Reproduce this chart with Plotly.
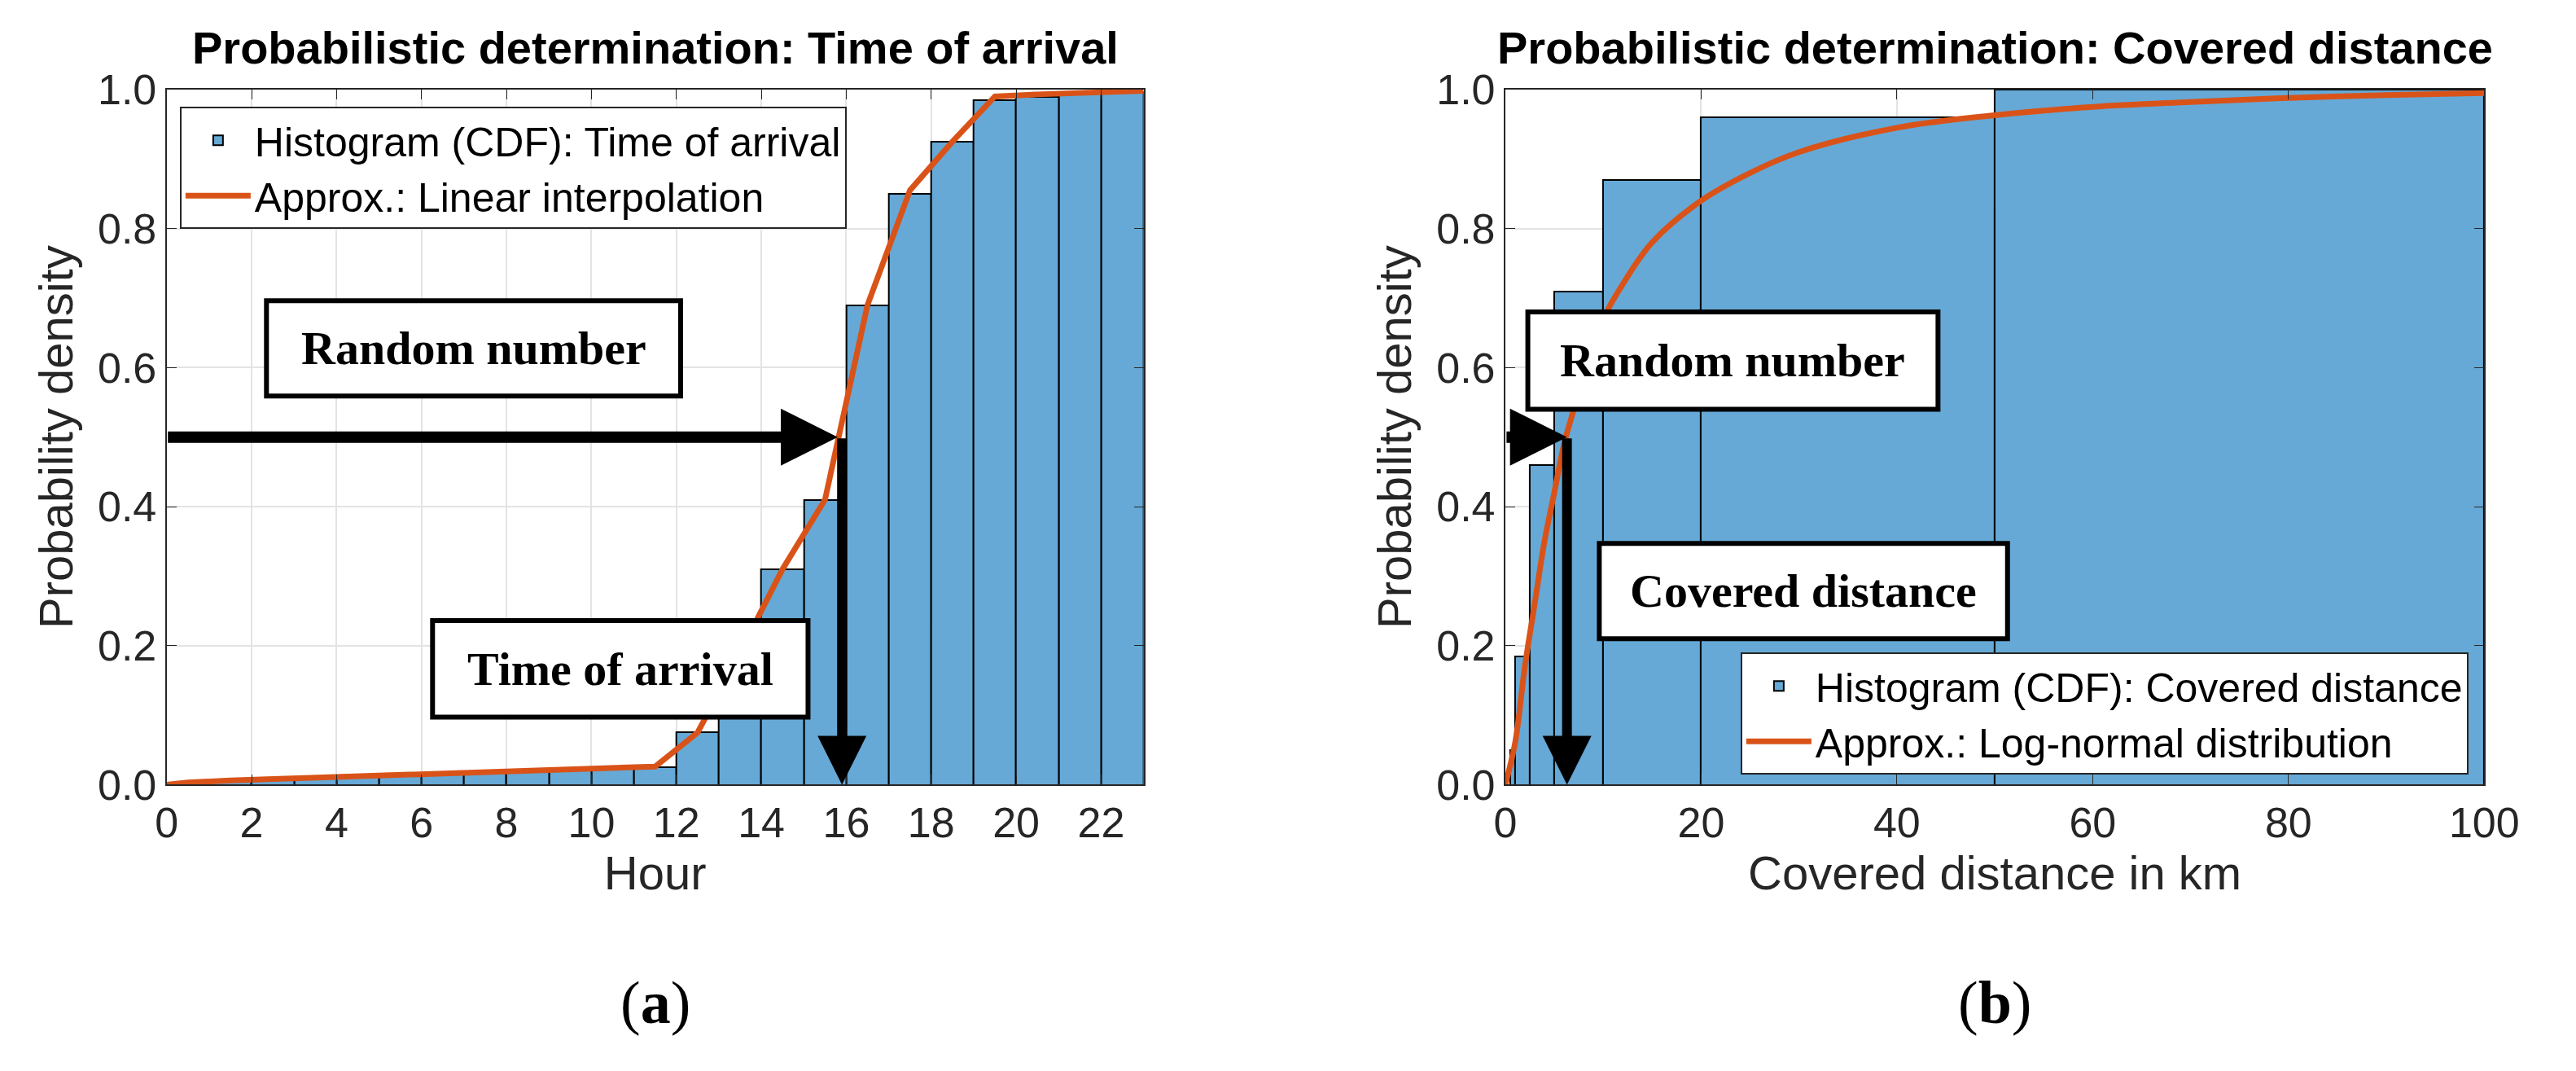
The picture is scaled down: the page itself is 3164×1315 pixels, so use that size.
import plotly.graph_objects as go

# Left: time of arrival histogram CDF (1-hour bins)
hour_edges = list(range(0, 24))
hour_cdf = [0.003, 0.006, 0.008, 0.010, 0.012, 0.014, 0.016, 0.018, 0.020, 0.022, 0.024, 0.025,
            0.075, 0.19, 0.31, 0.41, 0.69, 0.85, 0.925, 0.985, 0.99, 0.995, 0.997]
line_hour_x = [0, 0.5, 1.5, 2.5, 3.5, 4.5, 5.5, 6.5, 7.5, 8.5, 9.5, 10.5, 11.5, 12.5, 13.5, 14.5, 15.5,
               16.5, 17.5, 18.5, 19.5, 20.5, 21.5, 22.5, 23]
line_hour_y = [0.0, 0.003, 0.006, 0.008, 0.010, 0.012, 0.014, 0.016, 0.018, 0.020, 0.022, 0.024, 0.026,
               0.075, 0.19, 0.31, 0.41, 0.69, 0.855, 0.925, 0.99, 0.993, 0.995, 0.997, 0.998]

# Right: covered distance histogram CDF (variable bins)
dist_edges = [0.5, 1, 2.5, 5, 10, 20, 50, 100]
dist_cdf = [0.05, 0.185, 0.46, 0.71, 0.87, 0.96, 1.0]
logn_x = [0, 1, 2, 3, 4, 5, 6, 7, 8, 10, 12, 15, 20, 25, 30, 40, 50, 60, 70, 80, 90, 100]
logn_y = [0, 0.06, 0.17, 0.26, 0.35, 0.42, 0.49, 0.54, 0.59, 0.67, 0.72, 0.78, 0.84, 0.88, 0.91,
          0.945, 0.963, 0.975, 0.982, 0.988, 0.992, 0.995]

BAR = "#66a9d6"
LINE = "#D95319"
SANS = "Liberation Sans, Arial"
SERIF = "Liberation Serif, Times New Roman"

fig = go.Figure()
hc = [hour_edges[i] + 0.5 for i in range(len(hour_cdf))]
fig.add_bar(x=hc, y=hour_cdf, width=1, marker=dict(color=BAR, line=dict(color="black", width=2)),
            name="Histogram (CDF): Time of arrival", xaxis="x", yaxis="y", legend="legend")
fig.add_scatter(x=line_hour_x, y=line_hour_y, mode="lines", line=dict(color=LINE, width=7),
                name="Approx.: Linear interpolation", xaxis="x", yaxis="y", legend="legend")
dc = [(dist_edges[i] + dist_edges[i + 1]) / 2 for i in range(len(dist_cdf))]
dw = [dist_edges[i + 1] - dist_edges[i] for i in range(len(dist_cdf))]
fig.add_bar(x=dc, y=dist_cdf, width=dw, marker=dict(color=BAR, line=dict(color="black", width=2)),
            name="Histogram (CDF): Covered distance", xaxis="x2", yaxis="y2", legend="legend2")
fig.add_scatter(x=logn_x, y=logn_y, mode="lines", line=dict(color=LINE, width=7, shape="spline"),
                name="Approx.: Log-normal distribution", xaxis="x2", yaxis="y2", legend="legend2")

ax = dict(showline=True, linecolor="#262626", linewidth=2, mirror="ticks", ticks="inside", ticklen=12,
          tickcolor="#262626", showgrid=True, gridcolor="#e3e3e3", gridwidth=2, zeroline=False,
          tickfont=dict(family=SANS, size=52, color="#262626"),
          title_font=dict(family=SANS, size=58, color="#262626"))
fig.update_layout(
    width=3164, height=1315, margin=dict(l=0, r=0, t=0, b=0),
    plot_bgcolor="white", paper_bgcolor="white", barmode="overlay", bargap=0,
    xaxis=dict(ax, domain=[0.0588, 0.445], range=[0, 23], tickvals=list(range(0, 23, 2)),
               title=dict(text="Hour", standoff=10)),
    yaxis=dict(ax, domain=[0.263, 0.942], range=[0, 1], dtick=0.2, tickformat=".1f",
               title=dict(text="Probability density", standoff=12)),
    xaxis2=dict(ax, domain=[0.588, 0.975], range=[0, 100], dtick=20,
                title=dict(text="Covered distance in km", standoff=10)),
    yaxis2=dict(ax, domain=[0.263, 0.942], range=[0, 1], dtick=0.2, tickformat=".1f", anchor="x2",
                title=dict(text="Probability density", standoff=12)),
    legend=dict(x=0.064, y=0.925, xanchor="left", yanchor="top", bgcolor="white", bordercolor="#262626",
                borderwidth=2, font=dict(family=SANS, size=50, color="black"),
                tracegroupgap=0, itemwidth=80),
    legend2=dict(x=0.681, y=0.392, xanchor="left", yanchor="top", bgcolor="white", bordercolor="#262626",
                 borderwidth=2, font=dict(family=SANS, size=50, color="black"),
                 tracegroupgap=0, itemwidth=80),
    showlegend=True,
)

titles = [("Probabilistic determination: Time of arrival", 0.252),
          ("Probabilistic determination: Covered distance", 0.7815)]
for t, xp in titles:
    fig.add_annotation(text="<b>" + t + "</b>", xref="paper", yref="paper", x=xp, y=0.983,
                       xanchor="center", yanchor="middle", showarrow=False,
                       font=dict(family=SANS, size=56, color="black"))
for t, xp in [("(<b>a</b>)", 0.252), ("(<b>b</b>)", 0.7815)]:
    fig.add_annotation(text=t, xref="paper", yref="paper", x=xp, y=0.05, xanchor="center",
                       yanchor="middle", showarrow=False,
                       font=dict(family=SERIF, size=74, color="black"))

def box(text, x0, x1, y0, y1, xr, yr):
    fig.add_shape(type="rect", x0=x0, x1=x1, y0=y0, y1=y1, xref=xr, yref=yr,
                  fillcolor="white", line=dict(color="black", width=6), layer="above")
    fig.add_annotation(text="<b>" + text + "</b>", x=(x0 + x1) / 2, y=(y0 + y1) / 2, xref=xr, yref=yr,
                       showarrow=False, font=dict(family=SERIF, size=58, color="black"))

box("Random number", 2.35, 12.1, 0.559, 0.696, "x", "y")
box("Time of arrival", 6.26, 15.1, 0.097, 0.236, "x", "y")
box("Random number", 2.3, 44.2, 0.54, 0.68, "x2", "y2")
box("Covered distance", 9.6, 51.3, 0.21, 0.347, "x2", "y2")

def arrow(x0, y0, x1, y1, xr, yr, w):
    fig.add_annotation(x=x1, y=y1, ax=x0, ay=y0, xref=xr, yref=yr, axref=xr, ayref=yr, text="",
                       showarrow=True, arrowhead=2, arrowsize=1.0, arrowwidth=w, arrowcolor="black")

arrow(0, 0.5, 15.8, 0.5, "x", "y", 14)
arrow(15.9, 0.5, 15.9, 0.0, "x", "y", 12)
arrow(0, 0.5, 6.3, 0.5, "x2", "y2", 14)
arrow(6.3, 0.5, 6.3, 0.0, "x2", "y2", 12)

fig.write_html("out.html")
